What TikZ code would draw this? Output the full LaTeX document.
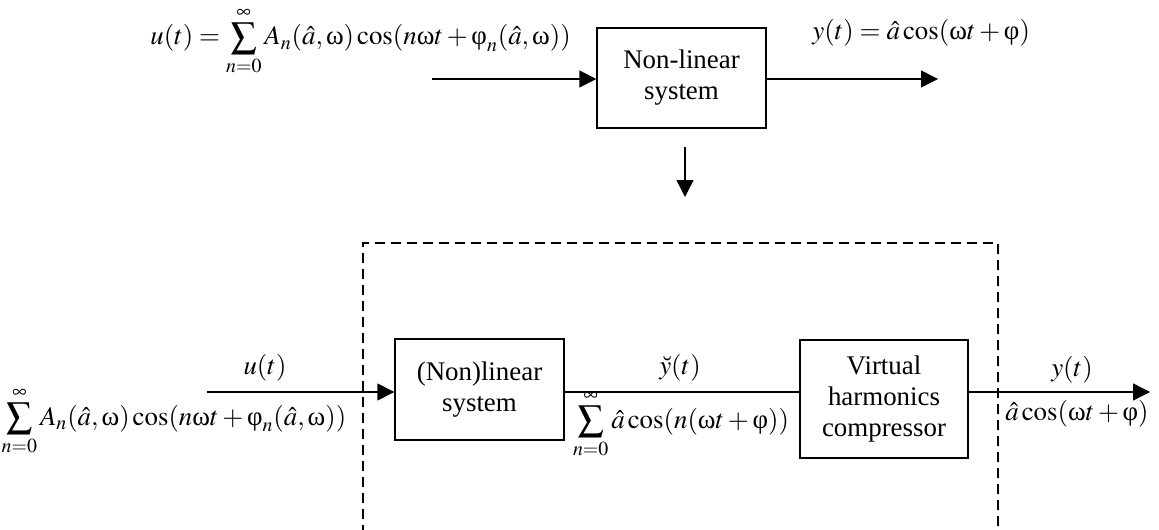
\documentclass[tikz,border=0pt]{standalone}
\usepackage{amsmath}
\usepackage{mathptmx}
\usepackage{fontspec}
\setmainfont{Liberation Serif}
\usetikzlibrary{arrows.meta, positioning}
\tikzstyle{block} = [draw, line width=0.8pt, align=center, inner sep=0pt, minimum width=3.38cm]
\tikzstyle{signal} = [-{Triangle[length=3.4mm, width=3.4mm]}, line width=0.8pt]
\tikzstyle{lbl} = [inner sep=0pt]
\newcommand{\om}{\text{ω}}
\newcommand{\ph}{\text{φ}}
\newcommand{\Sum}{\mathop{\raisebox{-1.5pt}{\fontsize{21}{21}\selectfont$\sum$}}\limits}

\begin{document}
\begin{tikzpicture}[x=0.02cm, y=-0.02cm, font=\fontsize{15.3}{17.6}\selectfont]
\useasboundingbox (0,0) rectangle (1159,530);
% original system
\node (sys) [block, minimum height=2cm] at (681.5,78) {Non-linear\\system};
\coordinate (in) at (432,79);
\coordinate (out) at (938,79);
\draw [signal] (in) -- (sys.west |- in);
\draw [signal] (sys.east |- out) -- (out);
\node (uin) [lbl, anchor=base west] at (150,45) {$u(t)=\Sum_{n=0}^{\infty}A_n(\hat a,\om)\cos(n\om t+\ph_n(\hat a,\om))$};
\node (yout) [lbl, anchor=base west] at (812,40) {$y(t)=\hat a\cos(\om t+\ph)$};
\coordinate (down) at (685,147);
\coordinate (downend) at (685,197);
\draw [signal] (down) -- (downend);
% equivalent system
\node (frame) [draw, line width=1pt, dash pattern=on 0.2cm off 0.12cm, minimum width=12.7cm, minimum height=5.76cm] at (680.5,387) {};
\node (nls) [block, minimum height=2.02cm] at (479.5,389.5) {(Non)linear\\system};
\node (vhc) [block, minimum width=3.36cm, minimum height=2.36cm] at (884,399) {Virtual\\harmonics\\compressor};
\coordinate (uin2) at (207,392);
\coordinate (yout2) at (1150,392);
\draw [signal] (uin2) -- (nls.west |- uin2);
\draw [line width=0.8pt] (nls.east |- uin2) -- (vhc.west |- uin2);
\draw [signal] (vhc.east |- uin2) -- (yout2);
\node (ulbl) [lbl, anchor=base] at (265,374) {$u(t)$};
\node (usum) [lbl, anchor=base] at (174,425) {$\Sum_{n=0}^{\infty}A_n(\hat a,\om)\cos(n\om t+\ph_n(\hat a,\om))$};
\node (ylbl) [lbl, anchor=base] at (680,374) {$\breve y(t)$};
\node (ysum) [lbl, anchor=base] at (681,428) {$\Sum_{n=0}^{\infty}\hat a\cos(n(\om t+\ph))$};
\node (ylbl2) [lbl, anchor=base] at (1072,376) {$y(t)$};
\node (ycos) [lbl, anchor=base] at (1077,420) {$\hat a\cos(\om t+\ph)$};
\end{tikzpicture}
\end{document}
